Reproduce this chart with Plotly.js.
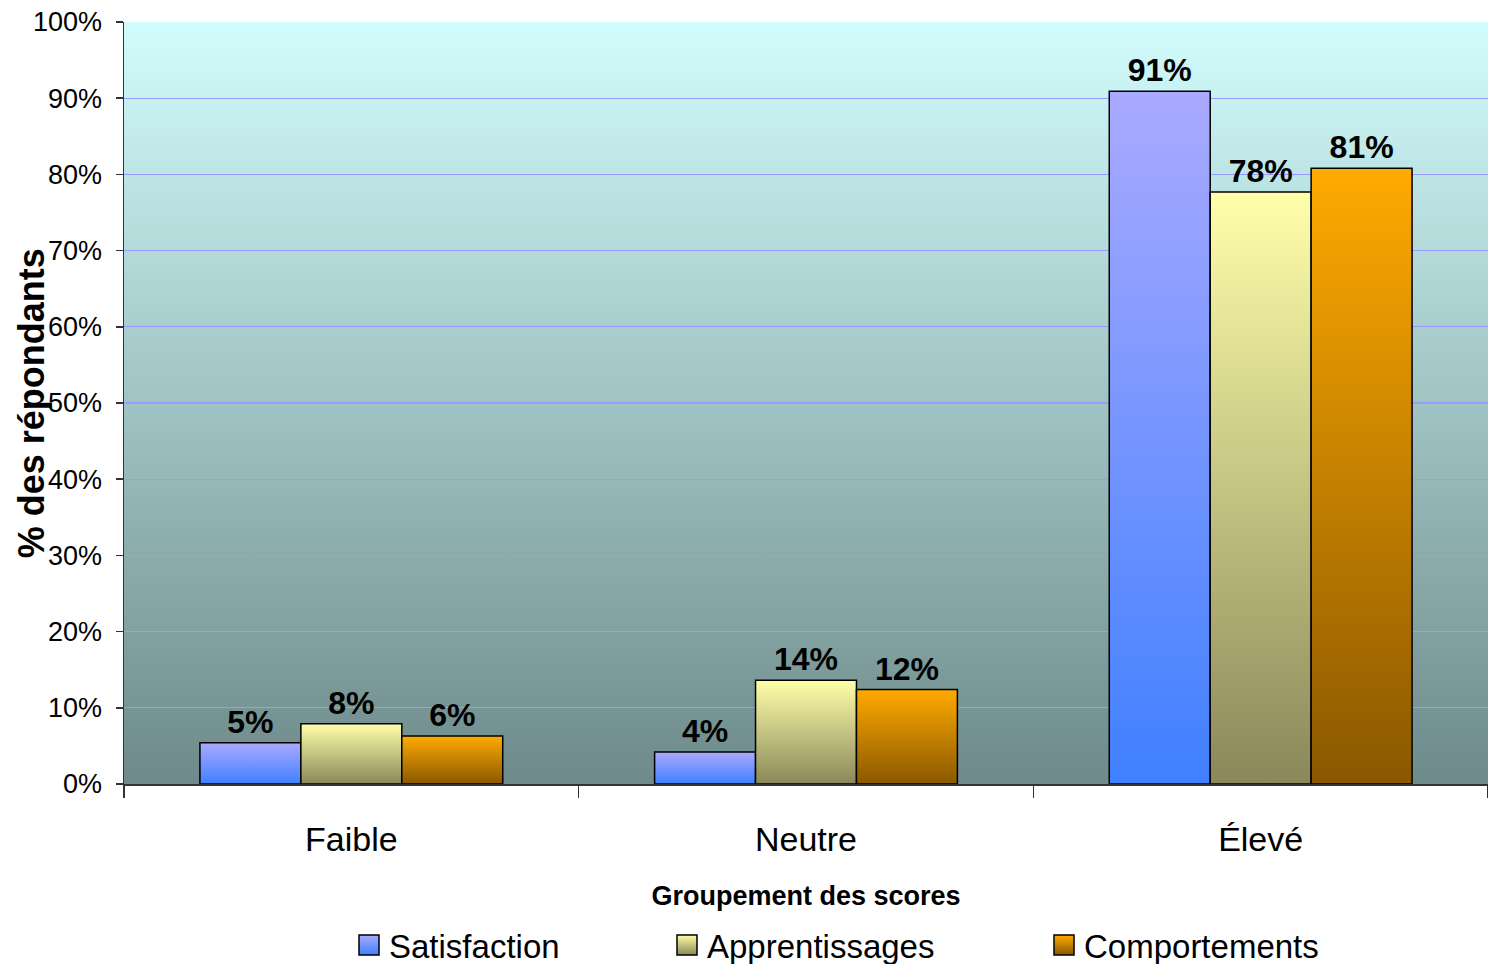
<!DOCTYPE html>
<html><head><meta charset="utf-8">
<script src="https://cdn.plot.ly/plotly-3.0.1.min.js"></script>
<style>html,body{margin:0;padding:0;background:#fff}#chart{width:1488px;height:964px}</style>
</head><body><div id="chart"></div>
<script>
// ---- data ----
const categories = ['Faible', 'Neutre', 'Élevé'];
const seriesNames = ['Satisfaction', 'Apprentissages', 'Comportements'];
const satisfaction = [0.054, 0.042, 0.909];
const apprentissages = [0.079, 0.136, 0.777];
const comportements = [0.063, 0.124, 0.808];
const xAxisTitle = 'Groupement des scores';
const yAxisTitle = '% des répondants';

// ---- styles ----
const gradColors = [['#aaaaff', '#4080ff'], ['#ffffaa', '#8a885a'], ['#ffaa00', '#8a5800']];
const flatColors = ['#7a96ff', '#d0cc88', '#c88000'];
const legendWidths = [273, 332, 245];
const FONT = '"Liberation Sans", Arial, Helvetica, sans-serif';

const seriesValues = [satisfaction, apprentissages, comportements];
const traces = seriesValues.map((vals, i) => ({
  type: 'bar',
  name: seriesNames[i],
  x: categories,
  y: vals,
  marker: {color: flatColors[i], line: {color: '#000', width: 1.5}},
  texttemplate: '%{y:.0%}',
  textposition: 'outside',
  textfont: {family: FONT, size: 32, color: '#000', weight: 'bold'},
  cliponaxis: false,
  legendwidth: legendWidths[i],
  hoverinfo: 'skip'
}));

const layout = {
  width: 1488, height: 964,
  margin: {l: 124, r: 0, t: 22, b: 180},
  paper_bgcolor: '#ffffff',
  plot_bgcolor: '#a8c4c4',
  barmode: 'group', bargap: 0.334, bargroupgap: 0,
  font: {family: FONT, color: '#000'},
  showlegend: true,
  xaxis: {
    type: 'category', tickson: 'boundaries', ticks: 'outside', ticklen: 12,
    tickcolor: '#333', tickwidth: 1.5, automargin: false,
    showline: true, linecolor: '#333', linewidth: 1.5, showgrid: false,
    tickfont: {family: FONT, size: 34, color: '#000'},
    ticklabelstandoff: 25,
    title: {text: xAxisTitle, font: {family: FONT, size: 27, weight: 'bold', color: '#000'}, standoff: 29}
  },
  yaxis: {
    range: [0, 1], tickformat: '.0%', dtick: 0.1, tick0: 0, automargin: false,
    ticks: 'outside', ticklen: 7, tickcolor: '#333', tickwidth: 1.5,
    showline: true, linecolor: '#333', linewidth: 1.5,
    gridcolor: '#9a9aff', gridwidth: 1.2, zeroline: false,
    tickfont: {family: FONT, size: 27, color: '#000'},
    ticklabelstandoff: 8
  },
  legend: {
    orientation: 'h', xanchor: 'left', yanchor: 'middle',
    xref: 'container', yref: 'container',
    x: 349 / 1488, y: 19 / 964,
    font: {family: FONT, size: 33, color: '#000'},
    bgcolor: 'rgba(0,0,0,0)'
  },
  annotations: [{
    text: yAxisTitle, textangle: -90, xref: 'paper', yref: 'paper',
    x: -0.068, y: 0.5, xanchor: 'center', yanchor: 'middle', showarrow: false,
    font: {family: FONT, size: 36, weight: 'bold', color: '#000'}
  }]
};

Plotly.newPlot('chart', traces, layout, {displayModeBar: false, staticPlot: true}).then(gd => {
  const NS = 'http://www.w3.org/2000/svg';
  const svg = gd.querySelector('svg.main-svg');
  let defs = svg.querySelector('defs');
  if (!defs) { defs = document.createElementNS(NS, 'defs'); svg.insertBefore(defs, svg.firstChild); }
  function addGrad(id, top, bottom) {
    const g = document.createElementNS(NS, 'linearGradient');
    g.setAttribute('id', id);
    g.setAttribute('x1', '0'); g.setAttribute('y1', '0');
    g.setAttribute('x2', '0'); g.setAttribute('y2', '1');
    [[0, top], [1, bottom]].forEach(([o, c]) => {
      const s = document.createElementNS(NS, 'stop');
      s.setAttribute('offset', o);
      s.setAttribute('stop-color', c);
      g.appendChild(s);
    });
    defs.appendChild(g);
  }
  addGrad('bgGrad', '#d2fcfc', '#6e8a8a');
  gradColors.forEach((c, i) => addGrad('barGrad' + i, c[0], c[1]));
  gd.querySelectorAll('.bglayer rect.bg').forEach(r => { r.style.fill = 'url(#bgGrad)'; });
  gd.querySelectorAll('.barlayer .trace').forEach((t, i) => {
    t.querySelectorAll('path').forEach(p => { p.style.fill = 'url(#barGrad' + i + ')'; });
  });
  gd.querySelectorAll('.legend .traces').forEach((t, i) => {
    const p = t.querySelector('.legendpoints path');
    if (p) {
      p.setAttribute('d', 'M10,10H-10V-10H10Z');
      p.style.fill = 'url(#barGrad' + i + ')';
      p.style.stroke = '#000';
      p.style.strokeWidth = '1.5px';
    }
  });
});
</script>
</body></html>
